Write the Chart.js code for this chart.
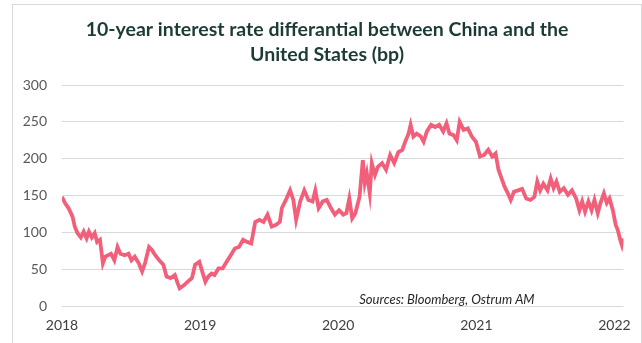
<!DOCTYPE html>
<html>
<head>
<meta charset="utf-8">
<script src="https://cdn.jsdelivr.net/npm/chart.js@4/dist/chart.umd.min.js"></script>
<style>
  html, body { margin: 0; padding: 0; background: #ffffff; overflow: hidden; }
  #wrap { position: relative; width: 642px; height: 343px; }
  #chart { position: absolute; left: 0; top: 0; }
  #frame {
    position: absolute; left: 12px; top: 4px; width: 628px; height: 360px;
    border: 1px solid #d9d9d9; pointer-events: none;
  }
</style>
</head>
<body>
<div id="wrap">
  <canvas id="chart" width="642" height="343"></canvas>
  <div id="frame"></div>
</div>
<script>
// Observation dates as decimal years (2018.0 = start of January 2018)
const years = [
  2018.000, 2018.024, 2018.047, 2018.077, 2018.092, 2018.112, 2018.136, 2018.157, 2018.178, 2018.195,
  2018.216, 2018.237, 2018.254, 2018.275, 2018.296, 2018.314, 2018.334, 2018.355, 2018.379, 2018.402,
  2018.423, 2018.453, 2018.482, 2018.503, 2018.527, 2018.556, 2018.580, 2018.601, 2018.630, 2018.651,
  2018.675, 2018.704, 2018.734, 2018.757, 2018.787, 2018.817, 2018.837, 2018.852, 2018.882, 2018.911,
  2018.941, 2018.964, 2018.994, 2019.015, 2019.038, 2019.059, 2019.083, 2019.104, 2019.133, 2019.163,
  2019.192, 2019.222, 2019.251, 2019.281, 2019.311, 2019.340, 2019.370, 2019.399, 2019.429, 2019.459,
  2019.488, 2019.518, 2019.547, 2019.577, 2019.592, 2019.621, 2019.651, 2019.675, 2019.695, 2019.725,
  2019.754, 2019.784, 2019.814, 2019.834, 2019.858, 2019.888, 2019.917, 2019.947, 2019.976, 2020.006,
  2020.036, 2020.059, 2020.080, 2020.101, 2020.124, 2020.154, 2020.178, 2020.192, 2020.207, 2020.228,
  2020.243, 2020.266, 2020.287, 2020.317, 2020.346, 2020.376, 2020.405, 2020.435, 2020.464, 2020.485,
  2020.509, 2020.524, 2020.544, 2020.568, 2020.598, 2020.618, 2020.642, 2020.672, 2020.701, 2020.731,
  2020.760, 2020.784, 2020.805, 2020.834, 2020.858, 2020.879, 2020.908, 2020.938, 2020.967, 2020.997,
  2021.027, 2021.056, 2021.086, 2021.115, 2021.139, 2021.160, 2021.183, 2021.204, 2021.228, 2021.249,
  2021.272, 2021.302, 2021.331, 2021.361, 2021.391, 2021.420, 2021.441, 2021.462, 2021.485, 2021.515,
  2021.538, 2021.559, 2021.580, 2021.604, 2021.633, 2021.663, 2021.692, 2021.722, 2021.746, 2021.766,
  2021.787, 2021.811, 2021.834, 2021.855, 2021.879, 2021.899, 2021.923, 2021.944, 2021.964, 2021.988,
  2022.009, 2022.024, 2022.041, 2022.053, 2022.062
];

// China 10Y yield minus US 10Y yield, in basis points
const spreadBp = [
  148, 139, 133, 121, 108, 99, 93, 101, 92, 101,
  93, 99, 87, 90, 58, 67, 69, 71, 62, 80,
  71, 69, 71, 62, 67, 58, 47, 58, 80, 76,
  69, 62, 56, 40, 38, 42, 31, 24, 28, 33,
  38, 56, 60, 47, 33, 40, 44, 42, 51, 51,
  60, 69, 78, 80, 90, 87, 85, 114, 117, 114,
  124, 108, 110, 114, 133, 144, 157, 144, 117, 142,
  157, 144, 142, 157, 133, 142, 144, 133, 124, 130,
  124, 126, 146, 119, 126, 148, 198, 167, 180, 153,
  194, 178, 189, 194, 185, 205, 194, 209, 212, 223,
  234, 246, 230, 234, 230, 223, 237, 246, 243, 246,
  237, 248, 234, 232, 225, 250, 239, 241, 230, 223,
  203, 205, 212, 203, 207, 185, 173, 162, 153, 144,
  155, 157, 159, 146, 144, 148, 169, 157, 166, 157,
  173, 160, 169, 155, 160, 151, 157, 146, 130, 142,
  128, 142, 130, 144, 126, 140, 153, 140, 146, 130,
  110, 103, 90, 83, 92
];

// Axis tick labels
const yearTicks = [2018, 2019, 2020, 2021, 2022];
const yTicks = [0, 50, 100, 150, 200, 250, 300];

const titleLines = ['10-year interest rate differantial between China and the', 'United States (bp)'];
const sourceNote = 'Sources: Bloomberg, Ostrum AM';

const points = years.map((x, i) => ({ x: x, y: spreadBp[i] }));

// Two-line heading centred inside the framed panel
const headingPlugin = {
  id: 'heading',
  afterDraw(chart) {
    const { ctx } = chart;
    ctx.save();
    ctx.font = 'bold 19.5px Lato, "Open Sans", sans-serif';
    ctx.fillStyle = '#1d3b36';
    ctx.textAlign = 'center';
    ctx.textBaseline = 'middle';
    titleLines.forEach((line, i) => ctx.fillText(line, 327, 30 + i * 25));
    ctx.restore();
  }
};

// Source note written inside the plot area, bottom right
const sourcePlugin = {
  id: 'sourceNote',
  afterDatasetsDraw(chart) {
    const { ctx, scales } = chart;
    ctx.save();
    ctx.font = 'italic 13px Lato, "Open Sans", sans-serif';
    ctx.fillStyle = '#262626';
    ctx.textAlign = 'left';
    ctx.textBaseline = 'middle';
    ctx.fillText(sourceNote, scales.x.getPixelForValue(2020.152), scales.y.getPixelForValue(8.5));
    ctx.restore();
  }
};

new Chart(document.getElementById('chart'), {
  type: 'line',
  data: {
    datasets: [{
      data: points,
      borderColor: '#f25f7a',
      borderWidth: 3.8,
      pointRadius: 0,
      tension: 0,
      fill: false
    }]
  },
  options: {
    responsive: false,
    animation: false,
    events: [],
    layout: { padding: { left: 12, right: 17, top: 85, bottom: 0 } },
    plugins: {
      legend: { display: false },
      tooltip: { enabled: false },
      title: { display: false }
    },
    scales: {
      x: {
        type: 'linear',
        min: 2018,
        max: 2022.065,
        afterBuildTicks(scale) { scale.ticks = yearTicks.map(v => ({ value: v })); },
        afterFit(scale) { scale.height = 37; },
        grid: { display: false, drawTicks: false },
        border: { display: false },
        ticks: {
          padding: 11,
          color: '#404040',
          font: { family: 'Lato, "Open Sans", sans-serif', size: 14 },
          maxRotation: 0,
          callback: v => String(v)
        }
      },
      y: {
        min: 0,
        max: 300,
        afterBuildTicks(scale) { scale.ticks = yTicks.map(v => ({ value: v })); },
        afterFit(scale) { scale.width = 50; },
        grid: { color: '#d9d9d9', lineWidth: 1, drawTicks: false },
        border: { display: false },
        ticks: {
          padding: 15,
          color: '#595959',
          font: { family: 'Lato, "Open Sans", sans-serif', size: 14 },
          callback: v => String(v)
        }
      }
    }
  },
  plugins: [headingPlugin, sourcePlugin]
});
</script>
</body>
</html>
